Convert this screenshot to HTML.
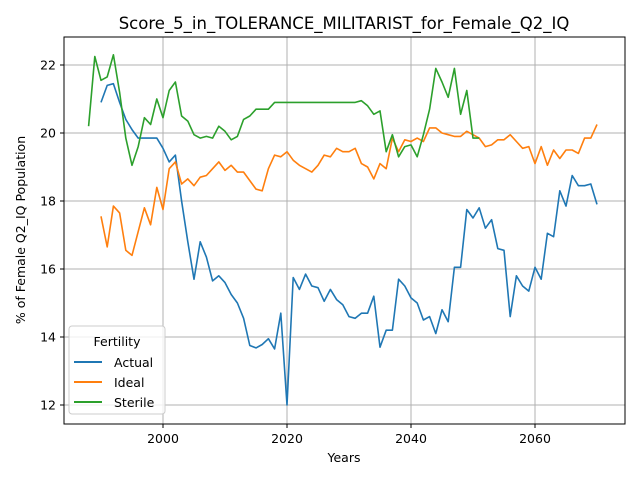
<!DOCTYPE html>
<html><head><meta charset="utf-8"><style>
body{margin:0;background:#fff;font-family:"Liberation Sans","DejaVu Sans",sans-serif}
svg text{font-family:"DejaVu Sans","Liberation Sans",sans-serif;fill:#000}
</style></head><body>
<svg id="chart" width="640" height="480">
<rect width="640" height="480" fill="#fff"/>
<text x="344" y="29" font-size="16.5" text-anchor="middle">Score_5_in_TOLERANCE_MILITARIST_for_Female_Q2_IQ</text>
<g id="grid"></g>
<g id="series"></g>
<rect x="64" y="37" width="561" height="387" fill="none" stroke="#000" stroke-width="1"/>
<g id="ticks"></g>
<text x="344" y="462" font-size="12.5" text-anchor="middle">Years</text>
<text transform="translate(25,230) rotate(-90)" font-size="12.5" text-anchor="middle">% of Female Q2_IQ Population</text>
<g>
<rect x="69" y="326" width="96" height="88" rx="3" fill="#fff" fill-opacity="0.8" stroke="#ccc"/>
<text x="117" y="346" font-size="12.5" text-anchor="middle">Fertility</text>
<line x1="74" y1="362" x2="102" y2="362" stroke="#1f77b4" stroke-width="2"/>
<text x="114" y="367" font-size="12.5">Actual</text>
<line x1="74" y1="382" x2="102" y2="382" stroke="#ff7f0e" stroke-width="2"/>
<text x="114" y="387" font-size="12.5">Ideal</text>
<line x1="74" y1="402" x2="102" y2="402" stroke="#2ca02c" stroke-width="2"/>
<text x="114" y="407" font-size="12.5">Sterile</text>
</g>
</svg>
<script>
const xTicks=[2000,2020,2040,2060];
const yTicks=[12,14,16,18,20,22];
const actualStart=1990;
const actual=[20.9,21.4,21.45,20.9,20.4,20.1,19.85,19.85,19.85,19.85,19.55,19.15,19.35,18.0,16.8,15.7,16.8,16.35,15.65,15.8,15.6,15.25,15.0,14.55,13.75,13.68,13.78,13.95,13.65,14.7,12.0,15.75,15.4,15.85,15.5,15.45,15.05,15.4,15.1,14.95,14.6,14.55,14.7,14.7,15.2,13.7,14.2,14.2,15.7,15.5,15.15,15.0,14.5,14.6,14.1,14.8,14.45,16.05,16.05,17.75,17.5,17.8,17.2,17.45,16.6,16.55,14.6,15.8,15.5,15.35,16.05,15.7,17.05,16.95,18.3,17.85,18.75,18.45,18.45,18.5,17.9];
const idealStart=1990;
const ideal=[17.55,16.65,17.85,17.65,16.55,16.4,17.1,17.8,17.3,18.4,17.75,18.95,19.15,18.5,18.65,18.45,18.7,18.75,18.95,19.15,18.9,19.05,18.85,18.85,18.6,18.35,18.3,18.95,19.35,19.3,19.45,19.2,19.05,18.95,18.85,19.05,19.35,19.3,19.55,19.45,19.45,19.55,19.1,19.0,18.65,19.1,18.95,19.85,19.45,19.8,19.75,19.85,19.75,20.15,20.15,20.0,19.95,19.9,19.9,20.05,19.95,19.85,19.6,19.65,19.8,19.8,19.95,19.75,19.55,19.6,19.1,19.6,19.05,19.5,19.25,19.5,19.5,19.4,19.85,19.85,20.25];
const sterileStart=1988;
const sterile=[20.2,22.25,21.55,21.65,22.3,21.2,19.85,19.05,19.6,20.45,20.25,21.0,20.45,21.25,21.5,20.5,20.35,19.95,19.85,19.9,19.85,20.2,20.05,19.8,19.9,20.4,20.5,20.7,20.7,20.7,20.9,20.9,20.9,20.9,20.9,20.9,20.9,20.9,20.9,20.9,20.9,20.9,20.9,20.9,20.95,20.8,20.55,20.65,19.45,19.95,19.3,19.6,19.65,19.3,19.95,20.7,21.9,21.5,21.05,21.9,20.55,21.25,19.85,19.85];
const NS="http://www.w3.org/2000/svg";
function xs(yr){return 163+(yr-2000)*6.2;}
function ys(v){return 133-(v-20)*34;}
const grid=document.getElementById('grid'),ticks=document.getElementById('ticks'),ser=document.getElementById('series');
function mk(tag,attrs,parent){const e=document.createElementNS(NS,tag);for(const k in attrs)e.setAttribute(k,attrs[k]);parent.appendChild(e);return e;}
xTicks.forEach(t=>{const x=xs(t);
 const g=mk('line',{x1:x,x2:x,y1:37,y2:424,stroke:'#b0b0b0','stroke-width':1},grid);
 
 
 const tk=mk('line',{x1:x,x2:x,y1:424,y2:428,stroke:'#000'},ticks);
 
 
 const tx=mk('text',{x:x,y:443,'font-size':12.5,'text-anchor':'middle'},ticks);tx.textContent=t;
 
 
});
yTicks.forEach(t=>{const y=ys(t);
 const g=mk('line',{x1:64,x2:625,y1:y,y2:y,stroke:'#b0b0b0','stroke-width':1},grid);
 
 
 const tk=mk('line',{x1:60,x2:64,y1:y,y2:y,stroke:'#000'},ticks);
 
 
 const tx=mk('text',{x:56,y:y+4.5,'font-size':12.5,'text-anchor':'end'},ticks);tx.textContent=t;
 
 
});
function line(data,start,color,name){
 const pts=data.map((v,i)=>xs(start+i).toFixed(1)+','+ys(v).toFixed(1)).join(' ');
 const p=mk('polyline',{points:pts,fill:'none',stroke:color,'stroke-width':1.6,'stroke-linejoin':'round'},ser);
 
 
}
line(actual,actualStart,'#1f77b4','actual-line');
line(ideal,idealStart,'#ff7f0e','ideal-line');
line(sterile,sterileStart,'#2ca02c','sterile-line');
</script>
</body></html>
